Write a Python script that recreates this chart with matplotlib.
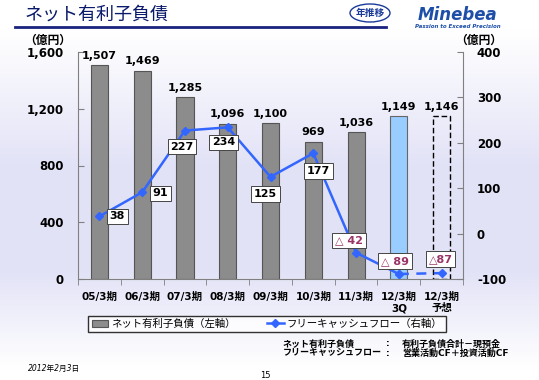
import matplotlib
matplotlib.use("Agg")
import matplotlib.pyplot as plt
import numpy as np
from matplotlib.patches import Ellipse, Patch
from matplotlib.lines import Line2D

plt.rcParams['font.family'] = ['DejaVu Sans', 'Noto Sans CJK JP']

# data
periods = ["05/3期", "06/3期", "07/3期", "08/3期", "09/3期", "10/3期", "11/3期", "12/3期\n3Q", "12/3期\n予想"]
net_debt = [1507, 1469, 1285, 1096, 1100, 969, 1036, 1149, 1146]
net_debt_labels = ["1,507", "1,469", "1,285", "1,096", "1,100", "969", "1,036", "1,149", "1,146"]
fcf = [38, 91, 227, 234, 125, 177, -42, -89, -87]
fcf_labels = ["38", "91", "227", "234", "125", "177", "△ 42", "△ 89", "△87"]
# label offsets in pixels (dx, dy) from the point
fcf_offsets = [(18, 0), (18, -1), (-3, -16), (-4, -15), (-5, -17), (5, -18), (-7, 12), (-4, 13), (-1, 14)]

W, H = 539, 380
fig = plt.figure(figsize=(W / 100, H / 100), dpi=100)

# background gradient
bg = fig.add_axes([0, 0, 1, 1], zorder=-10)
t = np.linspace(0, 1, 200)
base = np.array([1.0, 1.0, 1.0])
lav = np.array([0.89, 0.89, 0.97])
w = np.clip((t - 0.08) / 0.35, 0, 1) * np.clip((0.97 - t) / 0.25, 0, 1)
grad = base[None, :] * (1 - w[:, None]) + lav[None, :] * w[:, None]
bg.imshow(grad[:, None, :], aspect='auto', extent=[0, 1, 0, 1], origin='upper')
bg.set_xlim(0, 1)
bg.set_ylim(0, 1)
bg.axis('off')

ax = fig.add_axes([78 / W, 1 - 279 / H, (463 - 78) / W, (279 - 52) / H])
ax.patch.set_alpha(0)
x = np.arange(len(periods))

colors = ["#8c8c8c"] * 7 + ["#99ccff", "none"]
edges = ["#555555"] * 7 + ["#666666", "black"]
bars = ax.bar(x, net_debt, width=0.4, color=colors, edgecolor=edges, linewidth=0.8, zorder=2)
bars[-1].set_linestyle((0, (4, 2)))
bars[-1].set_linewidth(1.0)

for xi, v, lab in zip(x, net_debt, net_debt_labels):
    ax.annotate(lab, (xi, v), xytext=(0, 3), textcoords='offset points', ha='center', va='bottom',
                fontsize=8, fontweight='bold')

ax.set_xlim(-0.5, len(periods) - 0.5)
ax.set_ylim(0, 1600)
ax.set_yticks([0, 400, 800, 1200, 1600])
ax.set_yticklabels(["0", "400", "800", "1,200", "1,600"], fontsize=8.5, fontweight='bold')
ax.set_xticks(x)
ax.set_xticklabels(periods, fontsize=7.5, fontweight='bold', linespacing=1.2)
ax.set_xticks(np.arange(-0.5, len(periods), 1), minor=True)
ax.tick_params(axis='x', which='major', length=0, pad=9)
ax.tick_params(axis='x', which='minor', length=4, direction='out', color='gray')
ax.tick_params(axis='y', direction='in', length=4, color='gray', pad=10)
for s in ['top', 'right']:
    ax.spines[s].set_visible(False)
for s in ['left', 'bottom']:
    ax.spines[s].set_color('gray')

ax2 = ax.twinx()
ax2.set_ylim(-100, 400)
ax2.set_yticks([-100, 0, 100, 200, 300, 400])
ax2.set_yticklabels(["-100", "0", "100", "200", "300", "400"], fontsize=8.5, fontweight='bold')
ax2.tick_params(axis='y', direction='in', length=4, color='gray', pad=10)
for s in ['top', 'left', 'bottom']:
    ax2.spines[s].set_visible(False)
ax2.spines['right'].set_color('gray')

blue = "#3366ff"
ax2.plot(x[:8], fcf[:8], color=blue, lw=1.8, marker='D', ms=4, zorder=3)
ax2.plot(x[7:], fcf[7:], color=blue, lw=1.8, ls=(0, (4, 3)), marker='D', ms=4, zorder=3)

for xi, v, lab, (dx, dy) in zip(x, fcf, fcf_labels, fcf_offsets):
    col = "#993366" if v < 0 else "black"
    ax2.annotate(lab, (xi, v), xytext=(dx, dy), textcoords='offset pixels', ha='center', va='center',
                 fontsize=8, fontweight='bold', color=col, zorder=5,
                 bbox=dict(boxstyle='square,pad=0.25', fc='white', ec='#444444', lw=0.7))

# unit labels
cjk = ['Noto Sans CJK JP', 'DejaVu Sans']
fig.text(24 / W, 1 - 40 / H, "（億円）", fontsize=8.5, fontweight='bold', va='center', ha='left', family=cjk)
fig.text(502 / W, 1 - 40 / H, "（億円）", fontsize=8.5, fontweight='bold', va='center', ha='right', family=cjk)

# title
fig.text(25 / W, 1 - 15 / H, "ネット有利子負債", fontsize=13, color="#0a1a6a", va='center', ha='left')
fig.add_artist(Line2D([15 / W, 386 / W], [1 - 27 / H, 1 - 27 / H], color="#1a237e", lw=2))
fig.add_artist(Ellipse((370 / W, 1 - 13 / H), 40 / W, 18 / H, fc='white', ec="#1a3a9a", lw=1))
fig.text(370 / W, 1 - 13 / H, "年推移", fontsize=7, color="#1a3a9a", fontweight='bold', va='center', ha='center')
fig.text(458 / W, 1 - 15 / H, "Minebea", fontsize=12, color="#1e4fa8", fontweight='bold', style='italic',
         va='center', ha='center')
fig.text(458 / W, 1 - 26 / H, "Passion to Exceed Precision", fontsize=4, color="#1e4fa8", style='italic',
         fontweight='bold', va='center', ha='center')

# legend
handles = [Patch(fc="#8c8c8c", ec="#555555", lw=0.8),
           Line2D([], [], color=blue, lw=1.8, marker='D', ms=4)]
leg = fig.legend(handles, ["ネット有利子負債（左軸）", "フリーキャッシュフロー（右軸）"],
                 loc='center', bbox_to_anchor=(267 / W, 1 - 324 / H), ncol=2, fontsize=7.5,
                 frameon=True, fancybox=False, edgecolor='black', handlelength=1.6,
                 handletextpad=0.3, columnspacing=3.0, borderpad=0.3, borderaxespad=0)
leg.get_frame().set_linewidth(1.0)
leg.get_frame().set_facecolor('white')

# notes
fig.text(283 / W, 1 - 344 / H, "ネット有利子負債", fontsize=6.5, fontweight='bold', va='center')
fig.text(283 / W, 1 - 353 / H, "フリーキャッシュフロー", fontsize=6.5, fontweight='bold', va='center')
fig.text(386 / W, 1 - 344 / H, ":", fontsize=6.5, fontweight='bold', va='center')
fig.text(386 / W, 1 - 353 / H, ":", fontsize=6.5, fontweight='bold', va='center')
fig.text(402 / W, 1 - 344 / H, "有利子負債合計－現預金", fontsize=6.5, fontweight='bold', va='center')
fig.text(402 / W, 1 - 353 / H, "営業活動CF＋投資活動CF", fontsize=6.5, fontweight='bold', va='center')
fig.text(28 / W, 1 - 368 / H, "2012年2月3日", fontsize=5.5, style='italic', va='center')
fig.text(265 / W, 1 - 375 / H, "15", fontsize=6, va='center', ha='center')

fig.savefig("out.png", dpi=100)
